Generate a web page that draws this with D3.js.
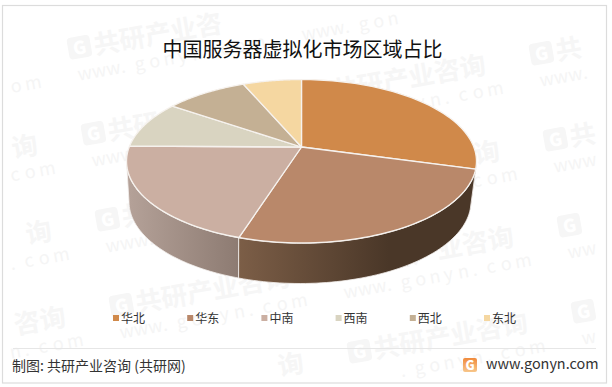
<!DOCTYPE html>
<html><head><meta charset="utf-8">
<script src="https://cdn.jsdelivr.net/npm/d3@7/dist/d3.min.js"></script>
<style>html,body{margin:0;padding:0;background:#fff}svg{display:block}text{font-family:"Noto Sans CJK SC","Noto Sans",sans-serif}</style>
</head><body><svg id="c" width="612" height="387"></svg>
<script>
const titleText = "中国服务器虚拟化市场区域占比";
const categories = ["华北","华东","中南","西南","西北","东北"];
const shares = [29.3,25.6,20.3,9.4,9.0,6.4];
const topColors = ["#D0894A","#B9886A","#CBAFA2","#D9D4C1","#C4B094","#F5D7A1"];
const sideFrom = ["#8a5a30","#7C5E47","#B5A299","#9a968a","#8f8068","#a89070"];
const sideTo = ["#8a5a30","#4A3728","#8D7B72","#9a968a","#8f8068","#a89070"];
const sourceText = "制图: 共研产业咨询 (共研网)";
const siteText = "www.gonyn.com";
const wmName = "共研产业咨询";
const wmSite = "www.gonyn.com";

const W=612,H=387;
const svg=d3.select("#c");
const defs=svg.append("defs");

svg.append("rect").attr("x",2.5).attr("y",5.5).attr("width",604).attr("height",377.5).attr("fill","#fff").attr("stroke","#dcdcdc").attr("stroke-width",1.2);

// watermark lattice: only glyphs wholly inside the frame are written
const wm=svg.append("g");
const rad=-10*Math.PI/180;
const inFrame=(x,y,m)=>x>4+m&&x<605-m&&y>7+m&&y<381-m;
for(let i=-3;i<=4;i++)for(let j=-2;j<=6;j++){
  const x0=70+i*224+j*14, y0=60+i*-40+j*86;
  const at=(dx,dy)=>[x0+dx*Math.cos(rad)-dy*Math.sin(rad), y0+dx*Math.sin(rad)+dy*Math.cos(rad)];
  const [gx,gy]=at(12,-10);
  if(inFrame(gx,gy,14)){
    const g=wm.append("g").attr("transform",`translate(${x0},${y0}) rotate(-10)`);
    g.append("rect").attr("x",0).attr("y",-22).attr("width",23).attr("height",22).attr("rx",4).attr("fill","#f6f6f6");
    g.append("text").attr("x",5).attr("y",-4).attr("font-size",18).attr("font-weight",900).attr("fill","#fff").text("G");
  }
  Array.from(wmName).forEach((ch,n)=>{
    const [x,y]=at(26+n*26,-1), [mx,my]=at(26+n*26+13,-11);
    if(inFrame(mx,my,15)) wm.append("text").attr("transform",`translate(${x},${y}) rotate(-10)`).attr("font-size",26).attr("font-weight",700).attr("fill","#f6f6f6").text(ch);
  });
  Array.from(wmSite).forEach((ch,n)=>{
    const [x,y]=at(5+n*14.5,22), [mx,my]=at(5+n*14.5+5,16);
    if(inFrame(mx,my,10)) wm.append("text").attr("transform",`translate(${x},${y}) rotate(-10)`).attr("font-size",18).attr("fill","#f5f5f5").text(ch);
  });
}

svg.append("text").attr("x",302.5).attr("y",57).attr("text-anchor","middle").attr("font-size",20).attr("fill","#111").text(titleText);

// pie geometry: perspective projection of a unit disc
const cx=301.5, apexY=147, k=-0.1743, sx=172.3, sy=79.2;
const project=(t)=>{const u=Math.sin(t),v=-Math.cos(t),w=1+k*v;return [cx+sx*u/w, apexY+sy*v/w];};
const eTop={cx:301.5,cy:161.5,rx:175,ry:81.8};
const eBot={cx:300,cy:201.5,rx:171,ry:82};
const onE=(e,p)=>[e.cx+e.rx*Math.sin(p), e.cy-e.ry*Math.cos(p)];
const screenAngle=(t)=>{const [x,y]=project(t);return (Math.atan2((x-eTop.cx)/eTop.rx,-(y-eTop.cy)/eTop.ry)+2*Math.PI)%(2*Math.PI);};
const arcs=d3.pie().sort(null)(shares);
const line=d3.line();
const span=(a,b,n=60)=>d3.range(n+1).map(i=>a+(b-a)*i/n);

const pieG=svg.append("g");
const H1=Math.PI/2,H2=3*Math.PI/2;
arcs.forEach((a,i)=>{
  let p0=a.index===0?0:screenAngle(a.startAngle), p1=screenAngle(a.endAngle%(2*Math.PI));
  if(a.endAngle>=2*Math.PI-1e-6)p1=2*Math.PI;
  p0=Math.max(p0,H1);p1=Math.min(p1,H2);
  if(p1<=p0)return;
  const pts=span(p0,p1).map(p=>onE(eTop,p)).concat(span(p1,p0).map(p=>onE(eBot,p)));
  const id="sg"+i, xs=pts.map(d=>d[0]);
  const lg=defs.append("linearGradient").attr("id",id).attr("gradientUnits","userSpaceOnUse")
    .attr("x1",d3.min(xs)).attr("x2",i===1?d3.min(xs)+150:d3.max(xs)).attr("y1",0).attr("y2",0);
  lg.append("stop").attr("offset",0).attr("stop-color",sideFrom[i]);
  lg.append("stop").attr("offset",1).attr("stop-color",sideTo[i]);
  pieG.append("path").attr("d",line(pts)+"Z").attr("fill",`url(#${id})`).attr("stroke","#f3efec").attr("stroke-width",0.8);
});

arcs.forEach((a,i)=>{
  const pts=[[cx,apexY]].concat(span(a.startAngle,a.endAngle).map(project));
  pieG.append("path").attr("d",line(pts)+"Z").attr("fill",topColors[i]).attr("stroke","#f6f2ee").attr("stroke-width",1.3).attr("stroke-linejoin","round");
});

const lx=d3.scalePoint().domain(categories).range([113,484]);
const lg=svg.append("g");
categories.forEach((c,i)=>{
  lg.append("rect").attr("x",lx(c)).attr("y",315).attr("width",6).attr("height",6).attr("fill",topColors[i]);
  lg.append("text").attr("x",lx(c)+8).attr("y",322.5).attr("font-size",12).attr("fill","#333").text(c);
});

svg.append("line").attr("x1",13).attr("x2",596).attr("y1",348.5).attr("y2",348.5).attr("stroke","#e6e6e6");
svg.append("text").attr("x",12).attr("y",371).attr("font-size",14).attr("fill","#333").text(sourceText);
const lgd=defs.append("linearGradient").attr("id","logo").attr("x1",0).attr("x2",0).attr("y1",0).attr("y2",1);
lgd.append("stop").attr("offset",0).attr("stop-color","#F08A3C");
lgd.append("stop").attr("offset",1).attr("stop-color","#F7C68A");
svg.append("rect").attr("x",463).attr("y",358).attr("width",14).attr("height",14).attr("rx",2).attr("fill","url(#logo)");
svg.append("text").attr("x",470).attr("y",369.5).attr("text-anchor","middle").attr("font-size",12.5).attr("font-weight",900).attr("fill","#fff").text("G");
svg.append("text").attr("x",486).attr("y",368.5).attr("font-size",14.4).attr("fill","#333").text(siteText);
</script></body></html>
